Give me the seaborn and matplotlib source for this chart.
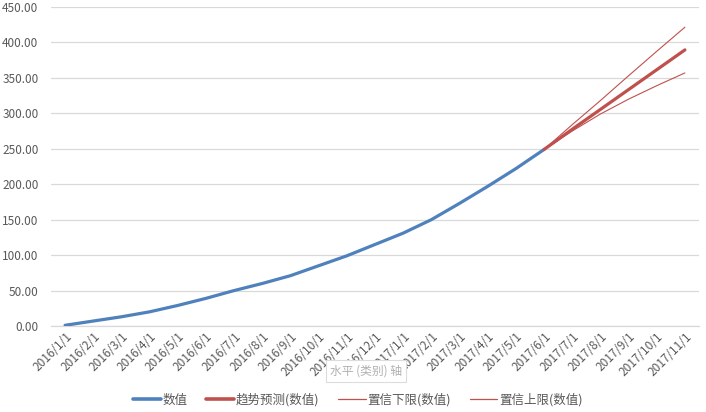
import numpy as np
import pandas as pd
import matplotlib
matplotlib.use("Agg")
import matplotlib.pyplot as plt
import seaborn as sns
from matplotlib.lines import Line2D

# ---- data ----
dates = ["2016/1/1", "2016/2/1", "2016/3/1", "2016/4/1", "2016/5/1", "2016/6/1",
         "2016/7/1", "2016/8/1", "2016/9/1", "2016/10/1", "2016/11/1", "2016/12/1",
         "2017/1/1", "2017/2/1", "2017/3/1", "2017/4/1", "2017/5/1", "2017/6/1",
         "2017/7/1", "2017/8/1", "2017/9/1", "2017/10/1", "2017/11/1"]
actual = [1, 7, 13, 20, 29, 39, 50, 60, 71, 85, 99, 115, 131, 150, 173, 197, 222, 249]
forecast_dates = dates[17:]
trend = [249, 277.5, 305.5, 333.5, 361.5, 389.5]
lower = [249, 275, 299, 320, 339, 357]
upper = [249, 284, 318, 353, 387.5, 421.5]
yticks = [0, 50, 100, 150, 200, 250, 300, 350, 400, 450]
legend_labels = ["数值", "趋势预测(数值)", "置信下限(数值)", "置信上限(数值)"]

sns.set_theme(style="white")
plt.rcParams['font.family'] = ['Noto Sans CJK SC', 'DejaVu Sans']

blue = "#4f81bd"
red = "#c0504d"
grid = "#d9d9d9"
txt = "#595959"

fig = plt.figure(figsize=(7.06, 4.12), dpi=100)
ax = fig.add_axes([51/706, 1-326/412, (699-51)/706, (326-7)/412])

pos_actual = [dates.index(d) for d in dates[:len(actual)]]
pos_fc = [dates.index(d) for d in forecast_dates]

sns.lineplot(x=pos_actual, y=actual, ax=ax, color=blue, linewidth=2.3, zorder=3)
sns.lineplot(x=pos_fc, y=lower, ax=ax, color=red, linewidth=0.8, zorder=3)
sns.lineplot(x=pos_fc, y=upper, ax=ax, color=red, linewidth=0.8, zorder=3)
sns.lineplot(x=pos_fc, y=trend, ax=ax, color=red, linewidth=2.3, zorder=4)

ax.set_xlim(-0.5, len(dates) - 0.5)
ax.set_ylim(0, 450)
ax.set_yticks(yticks)
ax.set_yticklabels([f"{v:.2f}" for v in yticks], fontsize=8.5, color=txt)
ax.set_xticks(range(len(dates)))
ax.set_xticklabels(dates, rotation=45, ha="right", va="top", rotation_mode="anchor",
                   fontsize=8.5, color=txt)
ax.tick_params(axis="both", length=0, pad=3)
ax.tick_params(axis="y", pad=9)
ax.grid(axis="y", color=grid, linewidth=0.9)
ax.grid(axis="x", visible=False)
for s in ["left", "right", "top"]:
    ax.spines[s].set_visible(False)
ax.spines["bottom"].set_color(grid)
ax.spines["bottom"].set_linewidth(0.9)
ax.set_xlabel("")
ax.set_ylabel("")

# tooltip overlay seen in the screenshot
fig.text(366/706, 1-371/412, "水平 (类别) 轴", fontsize=8.5, color="#b0b0b0",
         ha="center", va="center",
         bbox=dict(boxstyle="square,pad=0.35", fc="white", ec="#dcdcdc", lw=0.8),
         zorder=10)

handles = [Line2D([], [], color=blue, lw=2.6),
           Line2D([], [], color=red, lw=2.6),
           Line2D([], [], color=red, lw=0.9),
           Line2D([], [], color=red, lw=0.9)]
fig.legend(handles, legend_labels, loc="center", bbox_to_anchor=(358/706, 1-400/412),
           ncol=4, frameon=False, fontsize=9, handlelength=2.2, handletextpad=0.15,
           columnspacing=1.5, labelcolor=txt)

fig.savefig("out.png", dpi=100)
